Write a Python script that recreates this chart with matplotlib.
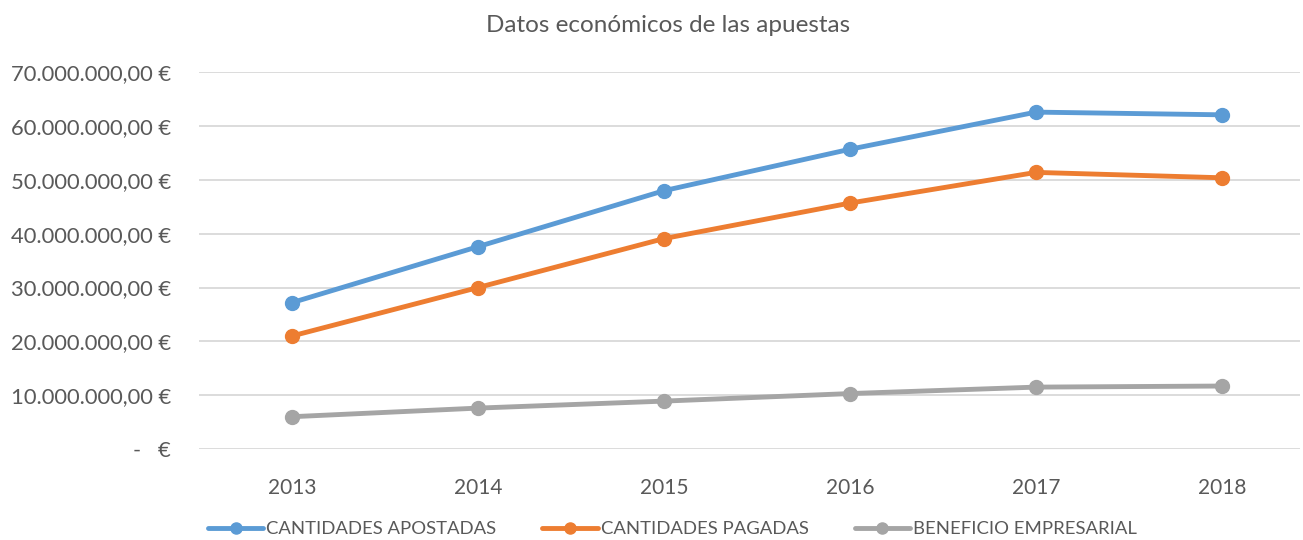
import matplotlib
matplotlib.use("Agg")
import matplotlib.pyplot as plt
from matplotlib.ticker import FuncFormatter

# datos
years = ["2013", "2014", "2015", "2016", "2017", "2018"]
apostadas = [27.2e6, 37.6e6, 48.0e6, 55.7e6, 62.6e6, 62.1e6]
pagadas = [21.0e6, 30.0e6, 39.1e6, 45.7e6, 51.4e6, 50.4e6]
beneficio = [6.0e6, 7.6e6, 8.9e6, 10.3e6, 11.5e6, 11.7e6]
series_names = ["CANTIDADES APOSTADAS", "CANTIDADES PAGADAS", "BENEFICIO EMPRESARIAL"]
colors = ["#5B9BD5", "#ED7D31", "#A5A5A5"]

plt.rcParams['font.family'] = ['Lato', 'DejaVu Sans']

fig = plt.figure(figsize=(13.03, 5.40), dpi=100)
ax = fig.add_axes([199 / 1303, 1 - 449 / 540, 1101 / 1303, (449 - 72.3) / 540])

x = list(range(len(years)))
for vals, name, c in zip([apostadas, pagadas, beneficio], series_names, colors):
    ax.plot(x, vals, color=c, lw=3.5, marker='o', ms=10, label=name,
            solid_capstyle='round', zorder=3)

ax.set_xlim(-0.5, 5.42)
ax.set_ylim(0, 70e6)
ax.set_yticks([i * 10e6 for i in range(8)])
ax.set_xticks(x)
ax.set_xticklabels(years)


def euro(v, pos):
    if v == 0:
        return "-   €"
    s = f"{v:,.2f}".replace(",", "X").replace(".", ",").replace("X", ".")
    return s + " €"


ax.yaxis.set_major_formatter(FuncFormatter(euro))
ax.grid(axis='y', color='#d9d9d9', lw=1.3, zorder=0)
for sp in ax.spines.values():
    sp.set_visible(False)
ax.tick_params(axis='both', length=0, colors='#595959')
ax.tick_params(axis='y', pad=20, labelsize=15.8)
ax.tick_params(axis='x', pad=21, labelsize=15)

fig.text(668 / 1303, 1 - 25 / 540, "Datos económicos de las apuestas", ha='center', va='center',
         fontsize=17.5, color='#595959')

leg = fig.legend(loc='center', bbox_to_anchor=(0.516, 1 - 529 / 540), ncol=3, frameon=False,
                 fontsize=13.3, handlelength=3.0, columnspacing=2.5, handletextpad=0.15,
                 labelcolor='#595959')
for h in leg.legend_handles:
    h.set_markersize(8)

fig.savefig("out.png", dpi=100)
